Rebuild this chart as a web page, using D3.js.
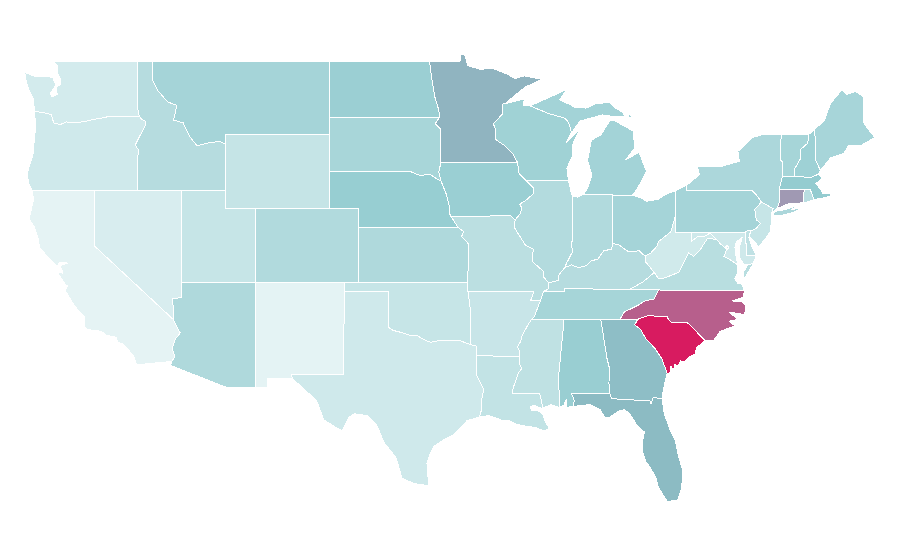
<!DOCTYPE html>
<html><head><meta charset="utf-8"><title>US states choropleth</title>
<script src="https://cdn.jsdelivr.net/npm/d3@7"></script>
<style>html,body{margin:0;padding:0;background:#fff}svg{display:block}</style></head>
<body><svg id="map" width="900" height="560"></svg>
<script>
// ---------- border lines, lon/lat ----------
const can49wa=[[-122.75,49],[-117.04,49]], can49id=[[-117.04,49],[-116.05,49]], can49mt=[[-116.05,49],[-104.05,49]], can49nd=[[-104.05,49],[-97.23,49]];
const waCoast=[[-124.05,46.27],[-124.1,46.9],[-124.35,47.3],[-124.6,47.9],[-124.7,48.38],[-124,48.17],[-123.2,48.15],[-122.8,48.12],[-122.6,47.7],[-122.95,47.25],[-122.85,47.05],[-122.5,47.2],[-122.55,47.6],[-122.3,47.7],[-122.25,48],[-122.5,48.4],[-122.5,48.75],[-122.75,49]];
const waId=[[-117.04,49],[-117.04,46.42],[-116.92,46]];
const waOr=[[-124.05,46.27],[-123.4,46.2],[-123.15,46.15],[-122.9,46.1],[-122.8,45.85],[-122.75,45.65],[-122.3,45.55],[-121.9,45.7],[-121.2,45.65],[-120.6,45.73],[-119.9,45.85],[-119.3,45.93],[-119,46],[-116.92,46]];
const orId=[[-116.92,46],[-116.78,45.85],[-116.55,45.75],[-116.47,45.6],[-116.68,45.25],[-116.85,45],[-117.2,44.45],[-117.05,44.25],[-116.95,44.2],[-117.03,43.83],[-117.03,42]];
const orCoast=[[-124.05,46.27],[-123.95,45.5],[-124.05,44.7],[-124.15,43.9],[-124.4,43.3],[-124.55,42.84],[-124.4,42.3],[-124.2,42]];
const orCa=[[-124.2,42],[-120,42]], orNv=[[-120,42],[-117.03,42]], nvId=[[-117.03,42],[-114.04,42]];
const caCoast=[[-124.2,42],[-124.1,41.5],[-124.4,40.45],[-124.05,40],[-123.8,39.4],[-123.7,38.9],[-123.05,38.3],[-122.5,37.85],[-122.35,38.1],[-121.8,38.05],[-122.3,37.9],[-122.1,37.5],[-122.5,37.55],[-122,36.95],[-121.8,36.8],[-121.95,36.55],[-121.3,35.7],[-120.65,35.15],[-120.65,34.6],[-120.45,34.45],[-119.5,34.35],[-119.2,34.15],[-118.5,34.03],[-118.4,33.75],[-118,33.65],[-117.3,33],[-117.12,32.53]];
const caMx=[[-117.12,32.53],[-114.72,32.72]];
const caAz=[[-114.72,32.72],[-114.5,33],[-114.7,33.4],[-114.5,33.9],[-114.15,34.27],[-114.45,34.7],[-114.63,35]];
const caNv=[[-114.63,35],[-120,39],[-120,42]];
const nvUt=[[-114.04,42],[-114.04,37]];
const nvAz=[[-114.04,37],[-114.05,36.2],[-114.35,36.15],[-114.7,36.1],[-114.6,35.6],[-114.63,35]];
const azUt=[[-114.04,37],[-109.05,37]], azNm=[[-109.05,37],[-109.05,31.33]];
const azMx=[[-109.05,31.33],[-111.07,31.33],[-114.8,32.5],[-114.72,32.72]];
const mtId=[[-116.05,49],[-116.05,48],[-115.7,47.43],[-115,46.78],[-114.37,46.6],[-114.6,45.8],[-113.95,45.65],[-113.5,44.9],[-113,44.4],[-112.3,44.55],[-111.45,44.65],[-111.05,44.48]];
const idWy=[[-111.05,44.48],[-111.05,42]], idUt=[[-114.04,42],[-111.05,42]];
const mtNd=[[-104.05,49],[-104.05,45.94]], mtSd=[[-104.05,45.94],[-104.05,45]], mtWy=[[-111.05,44.48],[-111.05,45],[-104.05,45]];
const wySd=[[-104.05,45],[-104.05,43]], wyNe=[[-104.05,43],[-104.05,41]], wyCo=[[-104.05,41],[-109.05,41]], wyUt=[[-109.05,41],[-111.05,41],[-111.05,42]];
const utCo=[[-109.05,41],[-109.05,37]];
const coNe=[[-104.05,41],[-102.05,41],[-102.05,40]], coKs=[[-102.05,40],[-102.05,37]], coOk=[[-102.05,37],[-103,37]], coNm=[[-103,37],[-109.05,37]];
const nmOk=[[-103,37],[-103,36.5]];
const nmTx=[[-103,36.5],[-103.08,32],[-106.62,32],[-106.53,31.78]];
const nmMx=[[-106.53,31.78],[-108.2,31.78],[-108.2,31.33],[-109.05,31.33]];
const okTx=[[-103,36.5],[-100,36.5],[-100,34.56],[-99.7,34.4],[-99.2,34.3],[-98.6,34.15],[-98.1,34.13],[-97.6,33.9],[-97.15,33.75],[-96.6,33.85],[-96,33.85],[-95.3,33.88],[-94.48,33.64]];
const ksOk=[[-102.05,37],[-94.62,37]], okMo=[[-94.62,37],[-94.62,36.5]], okAr=[[-94.62,36.5],[-94.43,35.4],[-94.48,33.64]];
const txAr=[[-94.48,33.64],[-94.04,33.55],[-94.04,33.02]];
const txLa=[[-94.04,33.02],[-94.04,32],[-93.55,31.2],[-93.7,30.6],[-93.7,30.1],[-93.84,29.7]];
const txCoast=[[-93.84,29.7],[-94.7,29.5],[-94.9,29.3],[-95.6,28.75],[-96.3,28.45],[-96.95,28.1],[-97.2,27.7],[-97.4,27.2],[-97.35,26.6],[-97.25,25.96]];
const txMx=[[-97.25,25.96],[-97.65,26.03],[-98.3,26.1],[-99.1,26.4],[-99.5,27.5],[-100.3,28.3],[-100.8,29.25],[-101.4,29.77],[-102.3,29.88],[-102.7,29.7],[-103.15,28.98],[-103.5,29.1],[-104.4,29.55],[-104.9,30.6],[-106,31.4],[-106.53,31.78]];
const ndSd=[[-104.05,45.94],[-96.55,45.94]];
const mnNd=[[-97.23,49],[-97.05,47.9],[-96.85,47],[-96.6,46.35],[-96.55,45.94]];
const mnSd=[[-96.55,45.94],[-96.85,45.6],[-96.45,45.3],[-96.45,43.5]];
const sdIa=[[-96.45,43.5],[-96.6,43],[-96.45,42.5]];
const sdNe=[[-104.05,43],[-98.5,43],[-97.9,42.8],[-97.2,42.85],[-96.7,42.6],[-96.45,42.5]];
const neIa=[[-96.45,42.5],[-96.1,41.8],[-95.9,41.2],[-95.85,40.7],[-95.77,40.58]];
const neMo=[[-95.77,40.58],[-95.31,40]], neKs=[[-102.05,40],[-95.31,40]];
const ksMo=[[-95.31,40],[-94.9,39.75],[-95.05,39.5],[-94.6,39.1],[-94.62,37]];
const mnTop=[[-97.23,49],[-95.15,49],[-95.15,49.38],[-94.8,49.3],[-94.65,48.75],[-93.8,48.55],[-92.95,48.6],[-92,48.3],[-91.4,48.05],[-90.8,48.2],[-89.6,48]];
const mnCoast=[[-89.6,48],[-90.7,47.6],[-91.5,47.1],[-92.05,46.7]];
const mnWi=[[-92.05,46.7],[-92.3,46.66],[-92.3,46.1],[-92.9,45.6],[-92.75,45.3],[-92.75,44.75],[-92.1,44.4],[-91.6,44],[-91.25,43.5]];
const mnIa=[[-91.25,43.5],[-96.45,43.5]];
const iaWi=[[-91.25,43.5],[-91.15,42.9],[-90.65,42.5]];
const iaIl=[[-90.65,42.5],[-90.15,42.1],[-90.2,41.8],[-90.65,41.47],[-91.1,41.25],[-90.95,41],[-91.1,40.7],[-91.42,40.38]];
const iaMo=[[-91.42,40.38],[-91.73,40.61],[-95.77,40.58]];
const ilMo=[[-91.42,40.38],[-91.45,39.95],[-91.1,39.5],[-90.7,39],[-90.15,38.8],[-90.25,38.5],[-90.2,38.1],[-89.5,37.6],[-89.5,37.3],[-89.13,36.98]];
const kyMo=[[-89.13,36.98],[-89.15,36.65],[-89.5,36.5]], tnMo=[[-89.5,36.5],[-89.7,36]];
const arMo=[[-89.7,36],[-90.37,36],[-90.15,36.5],[-94.62,36.5]];
const arTn=[[-89.7,36],[-89.9,35.6],[-90.1,35.15],[-90.3,35]];
const arMs=[[-90.3,35],[-90.55,34.7],[-90.95,34.1],[-91.05,33.8],[-91.25,33.5],[-91.1,33.25],[-91.15,33]];
const arLa=[[-94.04,33.02],[-91.15,33]];
const laMs=[[-91.15,33],[-91.15,32.6],[-90.95,32.35],[-91.2,32.1],[-91.4,31.6],[-91.55,31.3],[-91.6,31],[-89.75,31],[-89.53,30.18]];
const laCoast=[[-93.84,29.7],[-93.2,29.78],[-92.3,29.53],[-91.8,29.5],[-91.3,29.3],[-90.6,29.2],[-90.1,29.15],[-89.4,28.95],[-89.1,29.1],[-89.4,29.5],[-89.5,29.8],[-89.85,30.05],[-90.3,30.05],[-90.4,30.25],[-90.1,30.35],[-89.75,30.2],[-89.53,30.18]];
const msCoast=[[-89.53,30.18],[-89,30.38],[-88.4,30.22]];
const alMs=[[-88.2,34.99],[-88.1,34.9],[-88.47,31.9],[-88.4,30.22]];
const msTn=[[-90.3,35],[-88.2,34.99]], alTn=[[-88.2,34.99],[-85.6,34.98]], gaTn=[[-85.6,34.98],[-84.32,34.99]];
const alGa=[[-85.6,34.98],[-85.18,32.87],[-85,32.3],[-85.05,31.55],[-85,31]];
const alFl=[[-85,31],[-87.6,31],[-87.4,30.6],[-87.5,30.28]];
const alCoast=[[-87.5,30.28],[-87.9,30.23],[-87.95,30.65],[-88.1,30.35],[-88.4,30.22]];
const flGa=[[-81.45,30.72],[-82.05,30.75],[-82.2,30.4],[-82.2,30.57],[-84.86,30.7],[-85,31]];
const flCoast=[[-81.45,30.72],[-81.3,29.9],[-80.9,29],[-80.55,28.45],[-80.3,27.5],[-80.03,26.8],[-80.12,25.8],[-80.4,25.2],[-81.1,25.13],[-81.7,25.9],[-81.85,26.4],[-82.2,26.9],[-82.55,27.3],[-82.75,27.8],[-82.8,28.2],[-82.65,28.9],[-83.1,29.2],[-83.65,29.9],[-84,30.1],[-84.35,30.05],[-85.1,29.65],[-85.35,29.7],[-85.65,30.1],[-86.3,30.38],[-87.5,30.28]];
const gaCoast=[[-81.1,32.08],[-81.3,31.4],[-81.45,30.72]];
const gaSc=[[-83.1,35],[-83.3,34.7],[-82.9,34.45],[-82.55,33.95],[-81.9,33.4],[-81.45,32.85],[-81.1,32.08]];
const ncGa=[[-84.32,34.99],[-83.1,35]];
const ncSc=[[-83.1,35],[-82.4,35.2],[-81.05,35.13],[-81.05,35.05],[-80.8,34.82],[-79.67,34.8],[-78.55,33.86]];
const scCoast=[[-78.55,33.86],[-79.1,33.45],[-79.2,33.1],[-79.45,33.05],[-79.9,32.7],[-80.2,32.75],[-80.35,32.45],[-80.6,32.55],[-80.65,32.25],[-80.85,32.45],[-80.9,32.1],[-81.1,32.08]];
const ncCoast=[[-75.87,36.55],[-75.9,36.2],[-76.7,36],[-76,35.95],[-75.75,35.7],[-75.85,35.25],[-76.9,35.4],[-76.3,35],[-76.9,34.9],[-76.5,34.65],[-77.5,34.35],[-77.95,33.85],[-78.55,33.86]];
const tnNc=[[-81.68,36.59],[-82,36.1],[-82.6,36],[-83.1,35.75],[-84,35.4],[-84.32,34.99]];
const vaNc=[[-81.68,36.59],[-75.87,36.55]], tnVa=[[-83.67,36.6],[-81.68,36.59]];
const kyTn=[[-89.5,36.5],[-88.05,36.5],[-88.05,36.68],[-86.5,36.65],[-83.67,36.6]];
const kyVa=[[-81.97,37.54],[-82.7,37.05],[-83.67,36.6]];
const kyWv=[[-82.6,38.42],[-82.6,38.15],[-81.97,37.54]];
const vaWv=[[-77.72,39.32],[-78.35,39.4],[-78.85,38.78],[-79.3,38.42],[-79.65,38.6],[-80.3,37.55],[-81.25,37.25],[-81.68,37.2],[-81.97,37.54]];
const vaCoast=[[-75.87,36.55],[-76,36.9],[-76.3,36.95],[-76.5,37.2],[-76.3,37.55],[-76.3,37.95]];
const vaMd=[[-76.3,37.95],[-76.95,38.3],[-77.25,38.4],[-77.05,38.8],[-77.5,39.1],[-77.72,39.32]];
const wvMd=[[-77.72,39.32],[-78.2,39.68],[-78.45,39.52],[-79.05,39.47],[-79.48,39.2],[-79.48,39.72]];
const wvPa=[[-79.48,39.72],[-80.52,39.72],[-80.52,40.64]];
const ohWv=[[-80.52,40.64],[-80.85,39.75],[-81.7,39.2],[-81.75,39],[-82.2,38.6],[-82.6,38.42]];
const ohKy=[[-84.82,39.1],[-84.4,39.05],[-83.7,38.65],[-83,38.72],[-82.6,38.42]];
const ohPa=[[-80.52,40.64],[-80.52,41.98]];
const ohLake=[[-80.52,41.98],[-81.25,41.75],[-81.7,41.5],[-82.5,41.4],[-82.8,41.55],[-83.45,41.73]];
const ohMi=[[-83.45,41.73],[-84.8,41.7]], inOh=[[-84.82,39.1],[-84.8,41.7]], inMi=[[-84.8,41.7],[-84.8,41.76],[-86.8,41.76]];
const inLake=[[-86.8,41.76],[-87.2,41.62],[-87.53,41.7]];
const ilIn=[[-87.53,41.7],[-87.53,39.35],[-87.6,39],[-87.5,38.7],[-87.95,38],[-88.05,37.8]];
const inKy=[[-88.05,37.8],[-87.6,37.95],[-87.1,37.8],[-86.6,37.9],[-86.3,38.15],[-85.8,38.27],[-85.4,38.72],[-84.85,38.8],[-84.82,39.1]];
const ilKy=[[-88.05,37.8],[-88.45,37.4],[-88.5,37.1],[-89.13,36.98]];
const ilLake=[[-87.8,42.5],[-87.6,41.85],[-87.53,41.7]];
const ilWi=[[-90.65,42.5],[-87.8,42.5]];
const wiMich=[[-87.6,45.1],[-87.95,44.6],[-87.05,45.28],[-87.5,44.5],[-87.55,43.8],[-87.9,43.2],[-87.8,42.5]];
const wiMi=[[-90.42,46.57],[-89.1,46.14],[-88.1,45.92],[-87.85,45.75],[-87.65,45.35],[-87.6,45.1]];
const wiLake=[[-92.05,46.7],[-91.2,46.87],[-90.8,46.95],[-90.85,46.6],[-90.42,46.57]];
const miCoast=[[-86.8,41.76],[-86.5,42.1],[-86.2,42.8],[-86.5,43.6],[-86.25,44.7],[-85.6,45],[-85,45.75],[-84.7,45.78],[-83.4,45.2],[-83.3,44.3],[-83.9,43.65],[-83,44.05],[-82.5,43],[-82.9,42.4],[-83.15,42.05],[-83.45,41.73]];
const upCoast=[[-90.42,46.57],[-89.6,46.85],[-88.9,47.1],[-87.9,47.47],[-88.4,46.9],[-87.6,46.6],[-87.4,46.5],[-86.6,46.45],[-85.9,46.7],[-85,46.75],[-84.6,46.45],[-84.1,46.2],[-84,46],[-84.7,45.98],[-85.5,46.08],[-86.3,45.9],[-87,45.75],[-87.6,45.1]];
const isleRoyale=[[-89.1,47.9],[-88.5,48.15],[-88.6,48.02]];
const drummond=[[-83.9,46],[-83.6,46.1],[-83.5,45.93]];
const paLake=[[-80.52,41.98],[-79.76,42.27]];
const nyPa=[[-79.76,42.27],[-79.76,42],[-75.35,42],[-75.05,41.75],[-74.7,41.36]];
const paNj=[[-74.7,41.36],[-75.15,40.95],[-75.05,40.4],[-74.75,40.2],[-75.1,39.9],[-75.42,39.8]];
const paDe=[[-75.42,39.8],[-75.6,39.84],[-75.79,39.72]], paMd=[[-75.79,39.72],[-79.48,39.72]];
const nyNorth=[[-79.76,42.27],[-78.9,42.85],[-79.05,43.27],[-77.5,43.27],[-76.5,43.5],[-76.2,43.55],[-76.3,44.1],[-75.3,44.85],[-74.7,45],[-73.35,45]];
const nyVt=[[-73.35,45],[-73.4,44.5],[-73.4,43.6],[-73.25,43.55],[-73.27,42.75]];
const nyMa=[[-73.27,42.75],[-73.5,42.05]], nyCt=[[-73.5,42.05],[-73.5,41.3],[-73.65,41]];
const nyCoast=[[-73.65,41],[-73.9,40.8],[-74.05,40.65]], nyNj=[[-74.7,41.36],[-73.9,41],[-74.05,40.65]];
const longIsland=[[-74,40.6],[-73.75,40.85],[-73.1,40.95],[-72.3,41.15],[-72.65,40.95],[-71.9,41.05],[-72.5,40.8],[-73.5,40.6]];
const njCoast=[[-74.05,40.65],[-74,40.45],[-74.1,39.75],[-74.5,39.3],[-74.9,38.93],[-75.2,39.25],[-75.55,39.5],[-75.42,39.8]];
const deCoast=[[-75.42,39.8],[-75.55,39.45],[-75.4,39.05],[-75.05,38.45]];
const deMd=[[-75.05,38.45],[-75.7,38.46],[-75.79,39.72]];
const mdBay=[[-76.3,37.95],[-76.4,38.3],[-76.5,38.9],[-76.4,39.2],[-76,39.45],[-76.2,38.9],[-76.2,38.4],[-75.9,37.95],[-75.65,37.95],[-75.25,38.03],[-75.05,38.45]];
const vaShore=[[-75.65,37.95],[-75.25,38.03],[-75.9,37.15],[-75.95,37.5]];
const dcLine=[[-77.12,38.93],[-77.04,39],[-76.91,38.89],[-77.04,38.79]];
const canVt=[[-73.35,45],[-71.5,45.01]], canNh=[[-71.5,45.01],[-71.08,45.3]];
const vtNh=[[-71.5,45.01],[-71.55,44.55],[-72.05,44.2],[-72.05,43.7],[-72.45,43.15],[-72.46,42.73]];
const vtMa=[[-73.27,42.75],[-72.46,42.73]], nhMa=[[-72.46,42.73],[-71.3,42.7],[-70.82,42.87]];
const nhMe=[[-71.08,45.3],[-71,43.6],[-70.7,43.07]], nhCoast=[[-70.7,43.07],[-70.82,42.87]];
const meCoast=[[-71.08,45.3],[-70.4,45.8],[-70.25,46.2],[-70,46.7],[-69.23,47.46],[-68.9,47.2],[-68.3,47.35],[-67.8,47.07],[-67.8,45.7],[-67.45,45.3],[-67,44.85],[-68,44.4],[-68.8,44.4],[-69.1,44],[-70,43.75],[-70.7,43.07]];
const maCoast=[[-70.82,42.87],[-70.6,42.65],[-71,42.35],[-70.6,41.95],[-70.55,41.8],[-70,41.8],[-70.2,42.07],[-69.95,41.7],[-70.6,41.55],[-71.13,41.5]];
const maCt=[[-73.5,42.05],[-71.8,42.02]], maRi=[[-71.8,42.02],[-71.38,42.02],[-71.13,41.5]];
const ctRi=[[-71.8,42.02],[-71.86,41.32]], ctCoast=[[-71.86,41.32],[-72.9,41.25],[-73.65,41]], riCoast=[[-71.13,41.5],[-71.5,41.37],[-71.86,41.32]];

// ---------- states, values, rings ----------
const stateNames=["WA","OR","CA","NV","ID","MT","WY","UT","CO","AZ","NM","ND","SD","NE","KS","OK","TX","MN","IA","MO","AR","LA","WI","IL","MI","IN","OH","KY","TN","MS","AL","GA","FL","SC","NC","VA","WV","PA","NY","ME","VT","NH","MA","CT","RI","NJ","DE","MD","DC"];
const stateValues=[12.5,15,2,9.5,30,40,21,20,33,34,2.5,46,38,48,34,20,15,58,46.5,27,19,22.5,43,31.5,41,33,40,30,39,24.5,47,54,55,100,85,28.5,14,40,36,38.5,39.5,44,50,70,28,20,24,15,15];
const stateRings=[
 [[can49wa,waId,waOr,waCoast]],
 [[waOr,orId,orNv,orCa,orCoast]],
 [[orCa,caNv,caAz,caMx,caCoast]],
 [[orNv,nvId,nvUt,nvAz,caNv]],
 [[can49id,mtId,idWy,idUt,nvId,orId,waId]],
 [[can49mt,mtNd,mtSd,mtWy,mtId]],
 [[mtWy,wySd,wyNe,wyCo,wyUt,idWy]],
 [[idUt,wyUt,utCo,azUt,nvUt]],
 [[wyCo,coNe,coKs,coOk,coNm,utCo]],
 [[azUt,azNm,azMx,caAz,nvAz]],
 [[coNm,nmOk,nmTx,nmMx,azNm]],
 [[can49nd,mnNd,ndSd,mtNd]],
 [[ndSd,mnSd,sdIa,sdNe,wySd,mtSd]],
 [[sdNe,neIa,neMo,neKs,coNe,wyNe]],
 [[neKs,ksMo,ksOk,coKs]],
 [[coOk,ksOk,okMo,okAr,okTx,nmOk]],
 [[nmTx,okTx,txAr,txLa,txCoast,txMx]],
 [[mnTop,mnCoast,mnWi,mnIa,mnSd,mnNd]],
 [[mnIa,iaWi,iaIl,iaMo,neIa,sdIa]],
 [[iaMo,ilMo,kyMo,tnMo,arMo,okMo,ksMo,neMo]],
 [[arMo,okAr,txAr,arLa,arMs,arTn]],
 [[arLa,laMs,laCoast,txLa]],
 [[wiLake,wiMi,wiMich,ilWi,iaWi,mnWi]],
 [[ilLake,ilIn,ilKy,ilMo,iaIl,ilWi]],
 [[inMi,ohMi,miCoast],[upCoast,wiMi],[isleRoyale],[drummond]],
 [[inMi,inLake,ilIn,inKy,inOh]],
 [[ohPa,ohLake,ohMi,inOh,ohKy,ohWv]],
 [[inKy,ohKy,kyWv,kyVa,kyTn,kyMo,ilKy]],
 [[kyTn,tnVa,tnNc,gaTn,alTn,msTn,arTn,tnMo]],
 [[arMs,msTn,alMs,msCoast,laMs]],
 [[alTn,alGa,alFl,alCoast,alMs]],
 [[gaTn,ncGa,gaSc,gaCoast,flGa,alGa]],
 [[flGa,flCoast,alFl]],
 [[gaSc,scCoast,ncSc]],
 [[vaNc,ncCoast,ncSc,ncGa,tnNc]],
 [[vaNc,vaCoast,vaMd,vaWv,kyVa,tnVa],[vaShore]],
 [[wvMd,wvPa,ohWv,kyWv,vaWv]],
 [[paLake,nyPa,paNj,paDe,paMd,wvPa,ohPa]],
 [[nyPa,nyNorth,nyVt,nyMa,nyCt,nyCoast,nyNj],[longIsland]],
 [[nhMe,meCoast]],
 [[canVt,vtNh,vtMa,nyVt]],
 [[canNh,nhMe,nhCoast,nhMa,vtNh]],
 [[vtMa,nhMa,maCoast,maRi,maCt,nyMa]],
 [[maCt,ctRi,ctCoast,nyCt]],
 [[maRi,riCoast,ctRi]],
 [[paNj,nyNj,njCoast]],
 [[deMd,paDe,deCoast]],
 [[paMd,wvMd,vaMd,mdBay,deMd]],
 [[dcLine]]
];

// ---------- colour and position scales ----------
const colorStops=[0,50,55,70,85,100];
const colorRange=["#E8F5F6","#94CCD0","#8CBBC3","#A099B3","#B75F8C","#D81B60"];
const color=d3.scaleLinear().domain(colorStops).range(colorRange).interpolate(d3.interpolateRgb);
const x=d3.scaleLinear().domain([-120,-104.05]).range([94,329]);
const y=d3.scaleLinear().domain([49,25.1]).range([61,502]);

function chain(lines){
  const d2=(a,b)=>(a[0]-b[0])**2+(a[1]-b[1])**2;
  let ring=[];
  lines.forEach((l,i)=>{
    let s=l;
    if(i===0){
      if(lines.length>1){
        const n=lines[1], e=p=>Math.min(d2(p,n[0]),d2(p,n[n.length-1]));
        if(e(l[0])<e(l[l.length-1])) s=l.slice().reverse();
      }
    } else {
      const t=ring[ring.length-1];
      if(d2(t,l[l.length-1])<d2(t,l[0])) s=l.slice().reverse();
    }
    ring=ring.concat(s);
  });
  ring.push(ring[0]);
  return ring;
}
const features=stateNames.map((n,i)=>({type:"Feature",properties:{name:n,value:stateValues[i]},
  geometry:{type:"MultiPolygon",coordinates:stateRings[i].map(r=>[chain(r)])}}));
const path=d3.geoPath(d3.geoTransform({point(lon,lat){this.stream.point(x(lon),y(lat));}}));
d3.select("#map").selectAll("path").data(features).join("path")
  .attr("d",path).attr("data-state",d=>d.properties.name)
  .attr("fill",d=>color(d.properties.value))
  .attr("stroke","#fff").attr("stroke-width",1).attr("stroke-linejoin","round")
  .attr("shape-rendering","crispEdges");
</script></body></html>
